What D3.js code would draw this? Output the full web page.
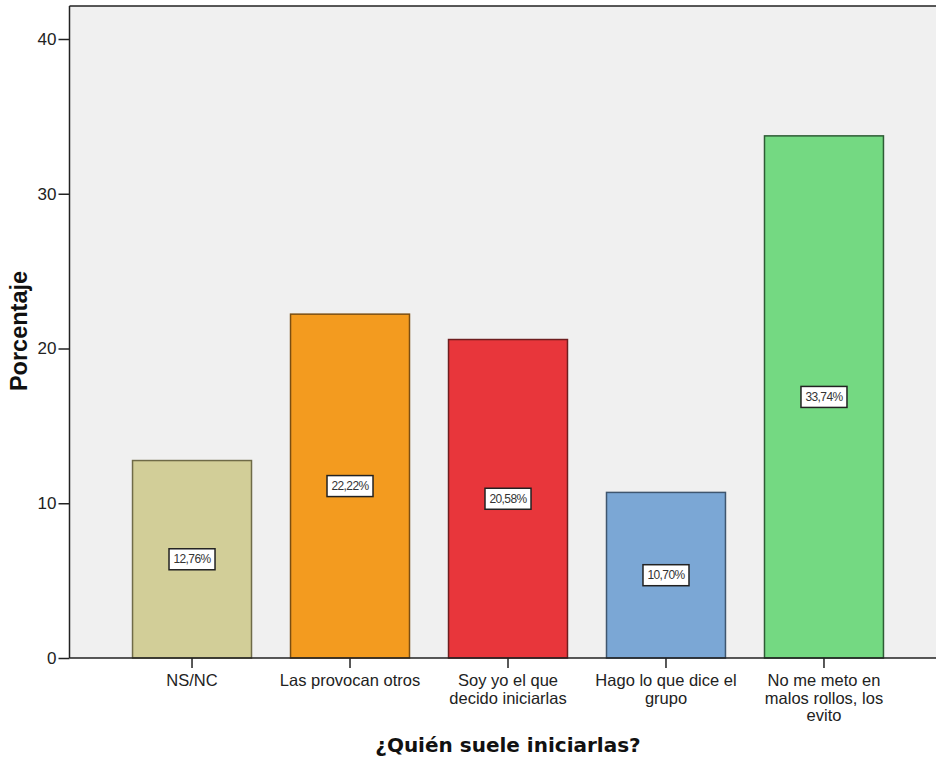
<!DOCTYPE html>
<html><head><meta charset="utf-8">
<script src="https://cdn.jsdelivr.net/npm/d3@7"></script>
<style>body{margin:0;background:#fff}</style>
</head><body>
<svg id="c" width="936" height="760"></svg>
<script>
const categories = ["NS/NC","Las provocan otros","Soy yo el que decido iniciarlas","Hago lo que dice el grupo","No me meto en malos rollos, los evito"];
const categoryLines = [["NS/NC"],["Las provocan otros"],["Soy yo el que","decido iniciarlas"],["Hago lo que dice el","grupo"],["No me meto en","malos rollos, los","evito"]];
const values = [12.76, 22.22, 20.58, 10.70, 33.74];
const valueLabels = ["12,76%","22,22%","20,58%","10,70%","33,74%"];
const yTicks = [0,10,20,30,40];
const fills = ["#d2ce98","#f39b1f","#e8363b","#7ba7d5","#74d982"];
const strokes = ["#6f6b48","#7a4e12","#6e1e1f","#3f566f","#2e5c35"];

const svg = d3.select("#c");
const L = 69.5, T = 6, B = 658, R = 946.5;
const y = d3.scaleLinear().domain([0,40]).range([B, 39]);
const x = d3.scaleBand().domain(categories).range([L, R]).paddingInner(0.247).paddingOuter(0.399);

svg.append("rect").attr("x",L).attr("y",T).attr("width",R-L).attr("height",B-T).attr("fill","#f0f0f0");
svg.append("line").attr("x1",L).attr("x2",936).attr("y1",T).attr("y2",T).attr("stroke","#222").attr("stroke-width",1.5);

svg.selectAll("rect.bar").data(values).join("rect").attr("class","bar")
  .attr("x",(d,i)=>x(categories[i])).attr("width",x.bandwidth())
  .attr("y",d=>y(d)).attr("height",d=>B-y(d))
  .attr("fill",(d,i)=>fills[i]).attr("stroke",(d,i)=>strokes[i]).attr("stroke-width",1.5);

// value labels
const lg = svg.selectAll("g.lab").data(values).join("g").attr("class","lab")
  .attr("transform",(d,i)=>`translate(${x(categories[i])+x.bandwidth()/2},${y(d/2)})`);
lg.append("rect").attr("x",-23).attr("y",-10.5).attr("width",46).attr("height",21)
  .attr("fill","#fff").attr("stroke","#222").attr("stroke-width",1.5);
lg.append("text").attr("text-anchor","middle").attr("dy","0.35em")
  .attr("font-family","Liberation Sans, Arial, sans-serif").attr("font-size",12)
  .attr("letter-spacing","-0.6").attr("fill","#333").text((d,i)=>valueLabels[i]);

// y axis
const ya = svg.append("g").attr("transform",`translate(${L},0)`)
  .call(d3.axisLeft(y).tickValues(yTicks).tickSize(11).tickPadding(2).tickFormat(d3.format("d")));
ya.select(".domain").attr("stroke","#222").attr("stroke-width",1.5).attr("d",`M0,${T}V${B}`);
ya.selectAll(".tick line").attr("stroke","#222").attr("stroke-width",1.5);
ya.selectAll(".tick text").attr("font-family","Liberation Sans, Arial, sans-serif").attr("font-size",17).attr("fill","#222");

// x axis
const xa = svg.append("g").attr("transform",`translate(0,${B})`)
  .call(d3.axisBottom(x).tickSize(10).tickFormat(""));
xa.select(".domain").attr("stroke","#222").attr("stroke-width",1.5).attr("d",`M${L},0H936`);
xa.selectAll(".tick line").attr("stroke","#222").attr("stroke-width",1.5);
xa.selectAll(".tick").each(function(d,i){
  const t = d3.select(this).append("text").attr("text-anchor","middle")
    .attr("font-family","Liberation Sans, Arial, sans-serif").attr("font-size",16.5).attr("fill","#222");
  categoryLines[i].forEach((ln,j)=>t.append("tspan").attr("x",0).attr("y",28+j*17.5).text(ln));
});

svg.append("text").attr("transform","translate(27,331) rotate(-90)").attr("text-anchor","middle")
  .attr("font-family","Liberation Sans, Arial, sans-serif").attr("font-weight","bold").attr("font-size",23.5).attr("fill","#111").text("Porcentaje");
svg.append("text").attr("x",508).attr("y",752).attr("text-anchor","middle")
  .attr("font-family","DejaVu Sans, sans-serif").attr("font-weight","bold").attr("font-size",20).attr("fill","#111").text("¿Quién suele iniciarlas?");
</script>
</body></html>
